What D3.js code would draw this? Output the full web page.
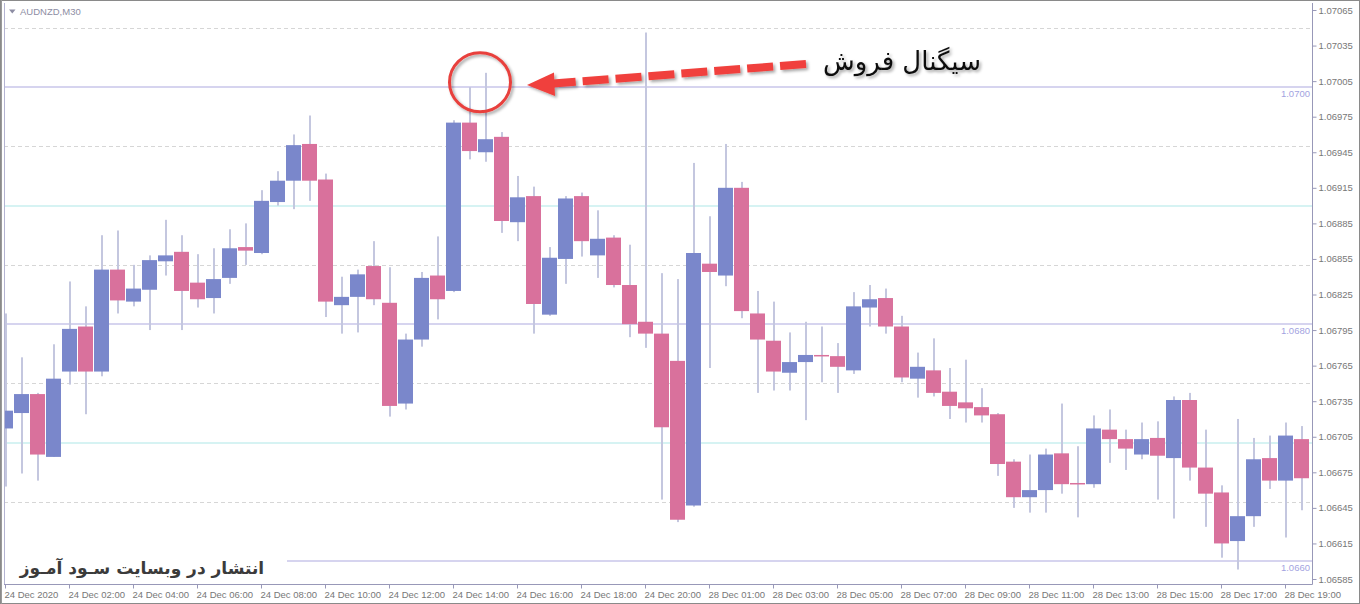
<!DOCTYPE html>
<html><head><meta charset="utf-8">
<script src="https://cdn.jsdelivr.net/npm/d3@7"></script>
<style>html,body{margin:0;padding:0;background:#fff;overflow:hidden}</style>
</head><body><svg id="c" width="1360" height="604"></svg>
<script>
// ---- data ----
const symbol = "AUDNZD,M30";
const days = ["24 Dec", "28 Dec"];
const barsPerDay = [42, 40];
const open  = [1.06712,1.06725,1.06741,1.06688,1.06760,1.06798,1.06760,1.06846,1.06819,1.06829,
               1.06853,1.06861,1.06835,1.06822,1.06839,1.06865,1.06860,1.06903,1.06921,1.06952,
               1.06922,1.06816,1.06823,1.06849,1.06818,1.06733,1.06787,1.06841,1.06828,1.06970,
               1.06945,1.06958,1.06886,1.06908,1.06808,1.06855,1.06908,1.06858,1.06873,1.06833,
               1.06802,1.06792,1.06769,1.06647,1.06851,1.06841,1.06915,1.06809,1.06786,1.06759,
               1.06768,1.06774,1.06773,1.06761,1.06814,1.06822,1.06798,1.06754,1.06761,1.06743,
               1.06734,1.06730,1.06724,1.06684,1.06654,1.06660,1.06691,1.06666,1.06665,1.06711,
               1.06703,1.06690,1.06704,1.06687,1.06736,1.06679,1.06658,1.06617,1.06638,1.06687,
               1.06668,1.06703];
const high  = [1.06809,1.06772,1.06742,1.06783,1.06836,1.06815,1.06875,1.06879,1.06850,1.06858,
               1.06888,1.06875,1.06859,1.06864,1.06880,1.06885,1.06913,1.06929,1.06960,1.06976,
               1.06927,1.06840,1.06846,1.06870,1.06848,1.06792,1.06844,1.06874,1.06972,1.07000,
               1.07012,1.06962,1.06925,1.06916,1.06865,1.06908,1.06911,1.06896,1.06875,1.06867,
               1.07046,1.06843,1.06838,1.06936,1.06891,1.06952,1.06920,1.06828,1.06819,1.06793,
               1.06802,1.06798,1.06784,1.06827,1.06833,1.06830,1.06807,1.06776,1.06788,1.06763,
               1.06770,1.06746,1.06725,1.06686,1.06690,1.06695,1.06733,1.06697,1.06723,1.06728,
               1.06711,1.06717,1.06718,1.06739,1.06742,1.06711,1.06664,1.06720,1.06704,1.06706,
               1.06717,1.06714];
const low   = [1.06663,1.06674,1.06668,1.06688,1.06749,1.06724,1.06756,1.06809,1.06815,1.06795,
               1.06841,1.06795,1.06814,1.06809,1.06834,1.06850,1.06859,1.06900,1.06897,1.06904,
               1.06806,1.06792,1.06793,1.06816,1.06722,1.06728,1.06781,1.06804,1.06827,1.06939,
               1.06937,1.06877,1.06870,1.06792,1.06807,1.06834,1.06857,1.06839,1.06831,1.06789,
               1.06780,1.06652,1.06633,1.06646,1.06763,1.06832,1.06805,1.06742,1.06744,1.06744,
               1.06719,1.06751,1.06742,1.06758,1.06798,1.06792,1.06751,1.06738,1.06739,1.06720,
               1.06717,1.06717,1.06672,1.06645,1.06641,1.06641,1.06657,1.06637,1.06662,1.06683,
               1.06677,1.06686,1.06652,1.06636,1.06668,1.06629,1.06603,1.06593,1.06629,1.06661,
               1.06620,1.06643];
const close = [1.06727,1.06741,1.06690,1.06754,1.06796,1.06760,1.06846,1.06820,1.06830,1.06854,
               1.06858,1.06828,1.06821,1.06838,1.06864,1.06862,1.06904,1.06921,1.06951,1.06921,
               1.06819,1.06823,1.06842,1.06821,1.06731,1.06787,1.06839,1.06821,1.06970,1.06946,
               1.06956,1.06887,1.06907,1.06817,1.06856,1.06906,1.06870,1.06872,1.06833,1.06800,
               1.06792,1.06713,1.06635,1.06860,1.06844,1.06915,1.06811,1.06787,1.06760,1.06768,
               1.06774,1.06773,1.06764,1.06815,1.06821,1.06798,1.06755,1.06764,1.06742,1.06731,
               1.06729,1.06723,1.06682,1.06654,1.06660,1.06690,1.06665,1.06665,1.06712,1.06703,
               1.06695,1.06703,1.06689,1.06736,1.06679,1.06657,1.06615,1.06638,1.06686,1.06668,
               1.06706,1.06670];
const priceTicks = [1.07065,1.07035,1.07005,1.06975,1.06945,1.06915,1.06885,1.06855,1.06825,1.06795,
                    1.06765,1.06735,1.06705,1.06675,1.06645,1.06615,1.06585];
const timeTickKeys   = ["24 Dec 00:00","24 Dec 02:00","24 Dec 04:00","24 Dec 06:00","24 Dec 08:00","24 Dec 10:00",
                        "24 Dec 12:00","24 Dec 14:00","24 Dec 16:00","24 Dec 18:00","24 Dec 20:00","28 Dec 01:00",
                        "28 Dec 03:00","28 Dec 05:00","28 Dec 07:00","28 Dec 09:00","28 Dec 11:00","28 Dec 13:00",
                        "28 Dec 15:00","28 Dec 17:00","28 Dec 19:00"];
const timeTickLabels = ["24 Dec 2020","24 Dec 02:00","24 Dec 04:00","24 Dec 06:00","24 Dec 08:00","24 Dec 10:00",
                        "24 Dec 12:00","24 Dec 14:00","24 Dec 16:00","24 Dec 18:00","24 Dec 20:00","28 Dec 01:00",
                        "28 Dec 03:00","28 Dec 05:00","28 Dec 07:00","28 Dec 09:00","28 Dec 11:00","28 Dec 13:00",
                        "28 Dec 15:00","28 Dec 17:00","28 Dec 19:00"];
const dashedLevels = [1.0705, 1.0695, 1.0685, 1.0675, 1.0665];
const roundLevels  = [1.0700, 1.0680, 1.0660];
const cyanLevels   = [1.0690, 1.0670];
const roundLabels  = ["1.0700", "1.0680", "1.0660"];
const signalText = "سیگنال فروش";
const watermark  = "انتشار در وبسایت سـود آمـوز";
const signalBar = 30;

// categories (bar open times)
const cats = [];
days.forEach((d, k) => {
  for (let j = 0; j < barsPerDay[k]; j++) {
    const h = String(Math.floor(j / 2)).padStart(2, "0");
    cats.push(d + " " + h + ":" + (j % 2 ? "30" : "00"));
  }
});
const bars = cats.map((t, i) => ({t, o: open[i], h: high[i], l: low[i], c: close[i]}));

// ---- layout ----
const W = 1360, H = 604;
const plotL = 4, plotR = 1312, plotT = 3, plotB = 584;
const BLUE = "#7a87cb", PINK = "#d9719c", WICK = "#c4c7df";
const FONT = "'Liberation Sans', Arial, sans-serif";

const svg = d3.select("#c");
const defs = svg.append("defs");
const f = defs.append("filter").attr("id", "sh").attr("x", "-20%").attr("y", "-40%").attr("width", "140%").attr("height", "180%");
f.append("feDropShadow").attr("dx", 2).attr("dy", 2).attr("stdDeviation", 1.6)
  .attr("flood-color", "#000").attr("flood-opacity", 0.35);

svg.append("rect").attr("width", W).attr("height", H).attr("fill", "#fff");

const x = d3.scaleBand().domain(cats).range([-2.5, -2.5 + 16 * cats.length]).padding(0);
const y = d3.scaleLinear().domain([1.06585, 1.07065]).range([579, 10]);

const clip = defs.append("clipPath").attr("id", "plot");
clip.append("rect").attr("x", plotL + 1).attr("y", plotT).attr("width", plotR - plotL - 1).attr("height", plotB - plotT);

const g = svg.append("g").attr("clip-path", "url(#plot)");

// grid / levels
g.selectAll(".dl").data(dashedLevels).join("line")
  .attr("x1", plotL).attr("x2", plotR)
  .attr("y1", d => Math.round(y(d)) + 0.5).attr("y2", d => Math.round(y(d)) + 0.5)
  .attr("stroke", "#d6d6d6").attr("stroke-width", 1).attr("stroke-dasharray", "4,3");
g.selectAll(".cl").data(cyanLevels).join("line")
  .attr("x1", plotL).attr("x2", plotR)
  .attr("y1", d => Math.round(y(d))).attr("y2", d => Math.round(y(d)))
  .attr("stroke", "#d6f3f3").attr("stroke-width", 2);
g.selectAll(".rl").data(roundLevels).join("line")
  .attr("x1", plotL).attr("x2", plotR)
  .attr("y1", d => Math.round(y(d))).attr("y2", d => Math.round(y(d)))
  .attr("stroke", "#d6d4ef").attr("stroke-width", 2);
g.selectAll(".rlt").data(roundLevels).join("text")
  .attr("x", plotR - 2).attr("y", d => Math.round(y(d)) + 10)
  .attr("text-anchor", "end").attr("font-family", FONT).attr("font-size", 9.5)
  .attr("fill", "#a3a3df").text((d, i) => roundLabels[i]);

// candles
const cx = d => x(d.t) + x.bandwidth() / 2;
g.selectAll(".wick").data(bars).join("rect")
  .attr("x", d => cx(d) - 0.5).attr("width", 2)
  .attr("y", d => y(d.h)).attr("height", d => Math.max(1, y(d.l) - y(d.h)))
  .attr("fill", WICK);
g.selectAll(".body").data(bars).join("rect")
  .attr("x", d => x(d.t) + 0.5).attr("width", x.bandwidth() - 1)
  .attr("y", d => y(Math.max(d.o, d.c)))
  .attr("height", d => Math.max(1.5, Math.abs(y(d.o) - y(d.c))))
  .attr("fill", d => d.c >= d.o ? BLUE : PINK);

// watermark box
svg.append("rect").attr("x", plotL + 1).attr("y", 546).attr("width", 282).attr("height", 37).attr("fill", "#fff");
svg.append("text").attr("x", 142).attr("y", 574).attr("text-anchor", "middle")
  .attr("font-family", "'DejaVu Sans', sans-serif").attr("font-weight", "bold").attr("font-size", 17)
  .attr("fill", "#3b3b3b").attr("direction", "rtl").text(watermark);

// frame
svg.append("rect").attr("x", 0.5).attr("y", 0.5).attr("width", W - 1).attr("height", H - 1)
  .attr("fill", "none").attr("stroke", "#8a8a8a");
svg.append("line").attr("x1", 1.5).attr("x2", 1.5).attr("y1", 0).attr("y2", H).attr("stroke", "#9a9a9a");
svg.append("line").attr("x1", plotL + 0.5).attr("x2", plotL + 0.5).attr("y1", plotT).attr("y2", plotB)
  .attr("stroke", "#b4b4d2");

// axes
const ya = svg.append("g").attr("transform", `translate(${plotR + 0.5},0)`)
  .call(d3.axisRight(y).tickValues(priceTicks).tickSize(4).tickPadding(2).tickFormat(d3.format(".5f")));
ya.select(".domain").attr("stroke", "#9898b8").attr("d", `M0,${plotT}V${plotB + 0.5}`);
ya.selectAll(".tick line").attr("stroke", "#9898b8");
ya.selectAll(".tick text").attr("font-family", FONT).attr("font-size", 9.5).attr("fill", "#777");

const xa = svg.append("g").attr("transform", `translate(0,${plotB + 0.5})`)
  .call(d3.axisBottom(x).tickValues(timeTickKeys).tickSize(4).tickPadding(3)
    .tickFormat(d => timeTickLabels[timeTickKeys.indexOf(d)]));
xa.select(".domain").attr("stroke", "#9898b8").attr("d", `M${plotL},0H${plotR + 0.5}`);
xa.selectAll(".tick line").attr("stroke", "#9898b8");
xa.selectAll(".tick text").attr("font-family", FONT).attr("font-size", 9.5).attr("fill", "#777")
  .attr("text-anchor", "start").attr("x", -1);

// title
svg.append("path").attr("d", "M9,9.5H15.5L12.25,13.5Z").attr("fill", "#8d8da3");
svg.append("text").attr("x", 20).attr("y", 15).attr("font-family", FONT).attr("font-size", 9.5)
  .attr("fill", "#8d8da3").text(symbol);

// annotation
const sb = bars[signalBar];
const ax = cx(sb) - 5.5, ay = y(1.07004);
const ann = svg.append("g").attr("filter", "url(#sh)");
ann.append("ellipse").attr("cx", ax).attr("cy", ay).attr("rx", 30.5).attr("ry", 29.5)
  .attr("fill", "none").attr("stroke", "#e8403c").attr("stroke-width", 3);
ann.append("line").attr("x1", 806).attr("y1", 64).attr("x2", 553).attr("y2", 83.5)
  .attr("stroke", "#f0403c").attr("stroke-width", 8).attr("stroke-dasharray", "26,7");
ann.append("path").attr("d", "M527,85L554,72.5L555,96Z").attr("fill", "#f0403c");
svg.append("text").attr("x", 902).attr("y", 70).attr("text-anchor", "middle")
  .attr("font-family", "'DejaVu Sans', sans-serif").attr("font-size", 26).attr("fill", "#111")
  .attr("filter", "url(#sh)").attr("direction", "rtl").text(signalText);
</script></body></html>
